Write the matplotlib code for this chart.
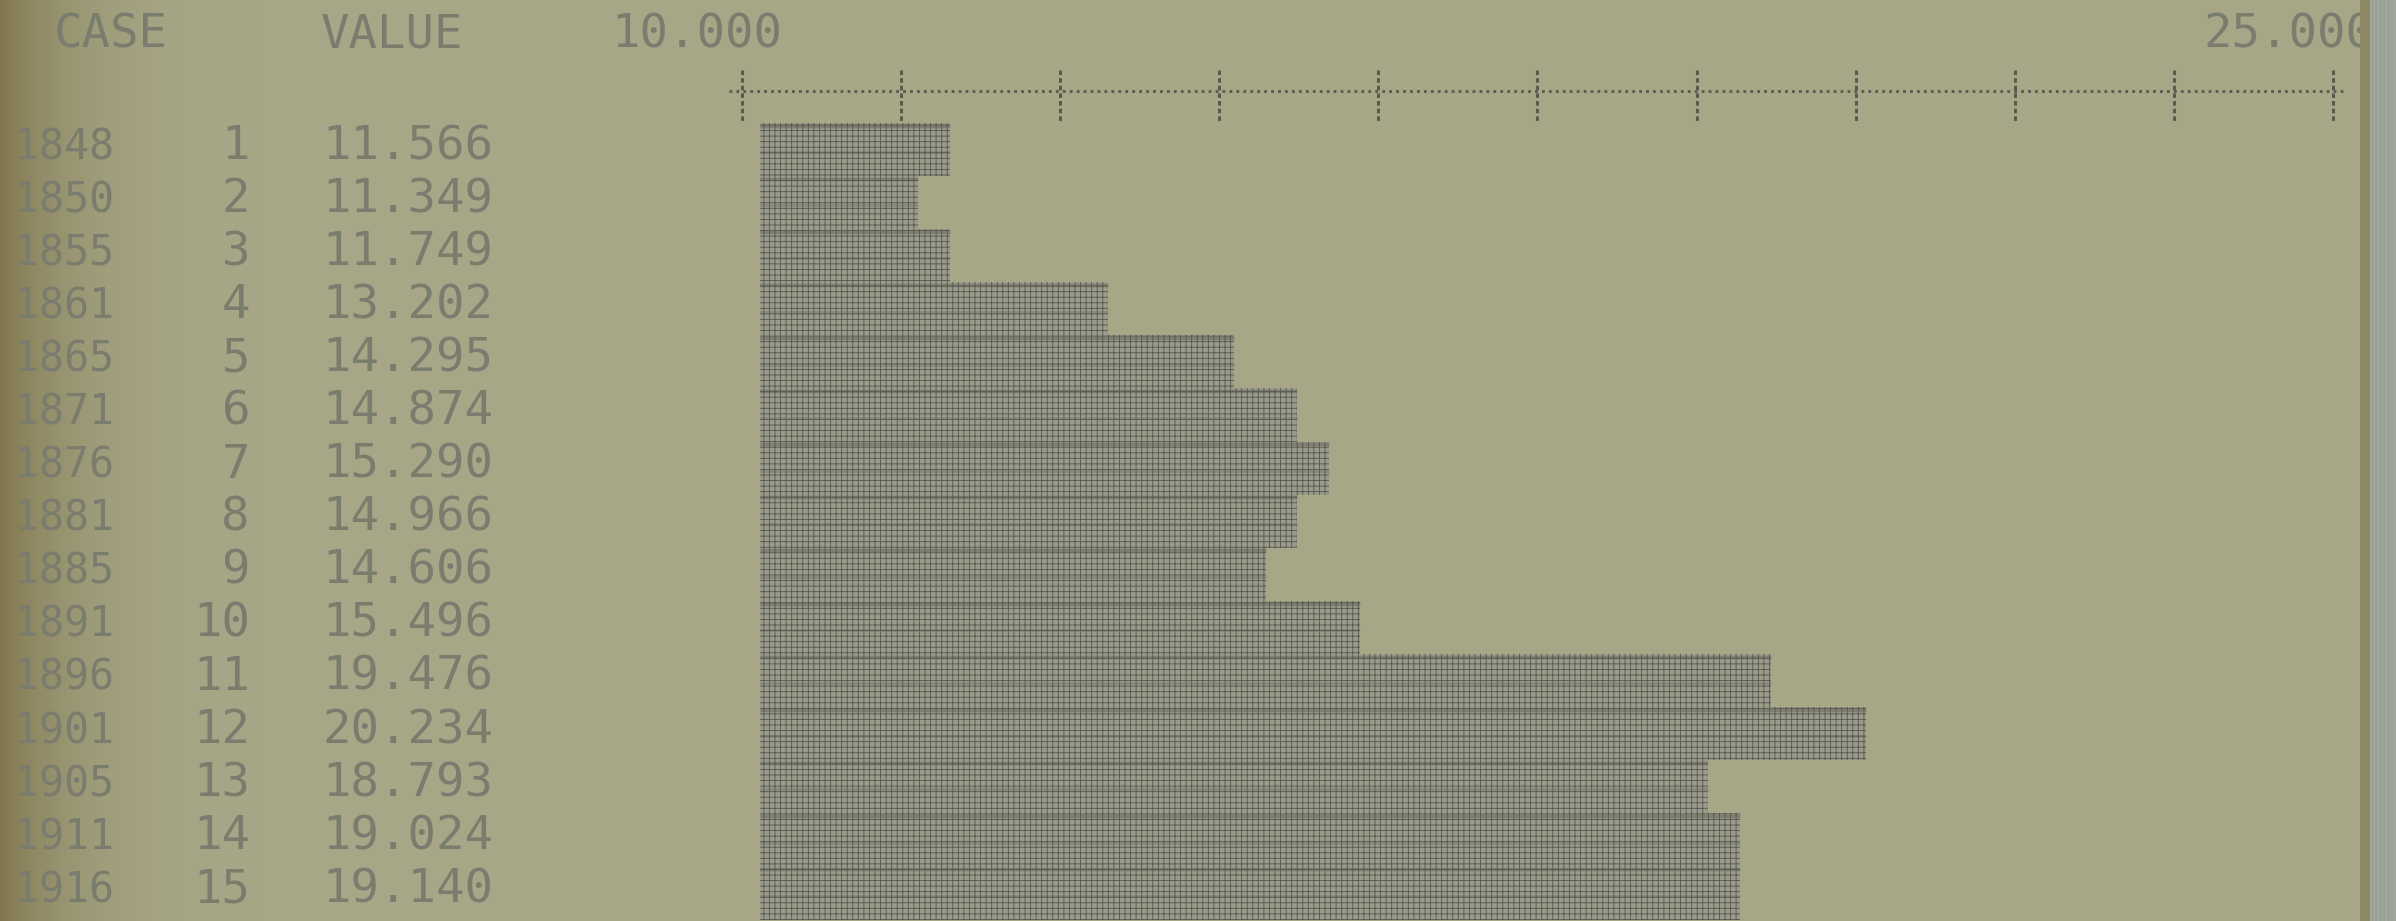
import numpy as np
import matplotlib.pyplot as plt
from matplotlib import transforms

# Data from the printout
years = [1848, 1850, 1855, 1861, 1865, 1871, 1876, 1881, 1885, 1891,
         1896, 1901, 1905, 1911, 1916]
cases = list(range(1, 16))
values = [11.566, 11.349, 11.749, 13.202, 14.295, 14.874, 15.290, 14.966,
          14.606, 15.496, 19.476, 20.234, 18.793, 19.024, 19.140]
axis_lo, axis_hi = 10.0, 25.0
tick_step = 1.5
col_units = 0.3          # value units per printer column (15 / 50)

W, H = 2396, 921
paper = np.array([168, 168, 137]) / 255
margin_col = np.array([128, 118, 76]) / 255
ink = '#575a4d'
text_ink = '#7a7c6d'
mono = 'DejaVu Sans Mono'

plt.rcParams['hatch.linewidth'] = 0.6

fig = plt.figure(figsize=(W / 100, H / 100), dpi=100)

# paper, darker towards the left margin
xs = np.arange(W)
shade = np.exp(-xs / 70.0)[None, :, None]
bg = paper * (1 - shade) + margin_col * shade
bg = np.repeat(bg, H, axis=0)
fig.figimage(bg, xo=0, yo=0, zorder=-10)

# right edge of the sheet (covers the end of the last label)
strip_x = 2360
strip = np.zeros((H, W - strip_x, 3))
strip[:, :10] = np.array([140, 136, 100]) / 255
strip[:, 10:] = np.array([156, 161, 152]) / 255
strip[:, 10::4] *= 1.05
fig.figimage(np.clip(strip, 0, 1), xo=strip_x, yo=0, zorder=10)

ax = fig.add_axes([0, 0, 1, 1])
ax.patch.set_alpha(0)
ax.axis('off')

# pixel geometry of the printout
x0_px = 741.7            # position of axis_lo
px_per_unit = 106.1
row_px = 53.1
top_px = 123

ax.set_xlim(axis_lo - x0_px / px_per_unit, axis_lo + (W - x0_px) / px_per_unit)
ax.set_ylim(-0.5 + (H - top_px) / row_px, -0.5 - top_px / row_px)


def py(p):
    return -0.5 + (p - top_px) / row_px


trans = transforms.blended_transform_factory(fig.transFigure, ax.transData)

# bars, drawn in whole printer columns
vals = np.array(values)
rows = np.arange(len(vals))
cell = 31.6 / px_per_unit
bar_start = axis_lo + (760 - x0_px) / px_per_unit
n_cells = np.ceil((vals - axis_lo) / col_units)
widths = n_cells * cell
ax.barh(rows, widths, left=bar_start, height=1.0, color='#9a9b8b',
        edgecolor='#55574c', linewidth=0, hatch='+++', zorder=2)
ax.hlines(rows - 0.45, bar_start, bar_start + widths, colors='#55574c',
          lw=2.5, alpha=0.4, zorder=3)
ax.hlines(rows + 0.05, bar_start, bar_start + widths, colors='#55574c',
          lw=2, alpha=0.25, zorder=3)

# scale line and ticks
ticks = np.arange(axis_lo, axis_hi + tick_step / 2, tick_step)
ax.hlines(py(91), axis_lo - 0.12, axis_hi + 0.1, colors=ink, lw=2,
          linestyles=(0, (1, 1.5)), zorder=3)
ax.vlines(ticks, py(70), py(122), colors=ink, lw=2.2,
          linestyles=(0, (1.5, 1)), zorder=3)

# header line
fs_val = 34
fs_year = 30
hdr_base = py(48)
ax.text(54 / W, hdr_base, 'CASE', transform=trans, family=mono,
        fontsize=fs_val, color=text_ink, va='baseline', ha='left')
ax.text(321 / W, hdr_base, 'VALUE', transform=trans, family=mono,
        fontsize=fs_val, color=text_ink, va='baseline', ha='left')
for v in (axis_lo, axis_hi):
    ax.text(v - 0.42, hdr_base, f'{v:.3f}', family=mono, fontsize=fs_val,
            color=text_ink, va='baseline', ha='center', zorder=4)

# table columns
base_off = (159 - top_px) / row_px - 0.5
for r, yr, c, v in zip(rows, years, cases, values):
    yb = r + base_off
    ax.text(14 / W, yb, str(yr), transform=trans, family=mono,
            fontsize=fs_year, color=text_ink, va='baseline', ha='left')
    ax.text(250 / W, yb, str(c), transform=trans, family=mono,
            fontsize=fs_val, color=text_ink, va='baseline', ha='right')
    ax.text(322 / W, yb, f'{v:.3f}', transform=trans, family=mono,
            fontsize=fs_val, color=text_ink, va='baseline', ha='left')

fig.savefig('out.png', dpi=100)
